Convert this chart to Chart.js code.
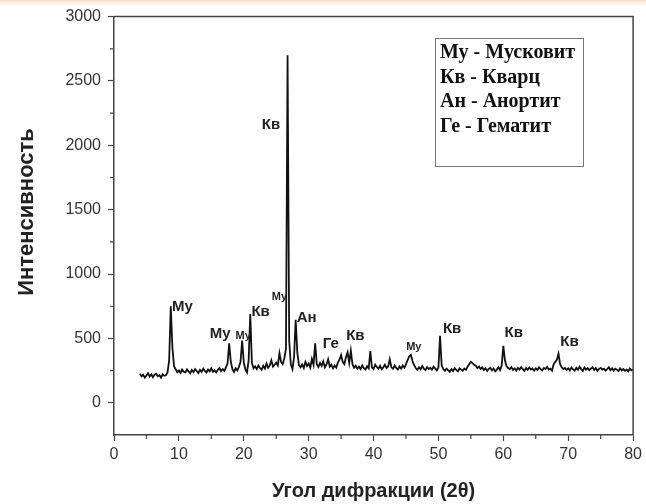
<!DOCTYPE html>
<html lang="ru">
<head>
<meta charset="UTF-8">
<title>Дифрактограмма</title>
<script src="https://cdn.jsdelivr.net/npm/chart.js"></script>
<style>
    html, body {
        margin: 0;
        padding: 0;
        background: linear-gradient(#fbdcc6 0px, #fdf1e8 3px, #ffffff 6px);
    }
    #xrd {
        display: block;
    }
</style>
</head>
<body>
<canvas id="xrd" width="646" height="504"></canvas>
<script>
    // scan grid: 4..80 degrees 2θ, 0.25 degree step
    const scanStart = 4;
    const scanStep = 0.25;

    // intensity, one row per degree (4 readings per row)
    const intensity = [
        225, 205, 218, 196,   // 4
        212, 230, 204, 221,   // 5
        199, 218, 226, 207,   // 6
        215, 196, 222, 210,   // 7
        214, 236, 330, 750,   // 8
        430, 285, 262, 238,   // 9
        251, 232, 258, 241,   // 10
        236, 260, 244, 229,   // 11
        255, 238, 262, 247,   // 12
        231, 256, 240, 265,   // 13
        248, 236, 259, 244,   // 14
        268, 241, 252, 236,   // 15
        257, 270, 245, 262,   // 16
        248, 276, 305, 462,   // 17
        320, 262, 240, 268,   // 18
        251, 279, 318, 484,   // 19
        315, 258, 236, 330,   // 20
        690, 310, 268, 284,   // 21
        262, 291, 270, 256,   // 22
        288, 266, 305, 272,   // 23
        290, 330, 281, 296,   // 24
        312, 290, 385, 318,   // 25
        300, 345, 420, 2700,  // 26
        480, 300, 262, 355,   // 27
        645, 390, 292, 276,   // 28
        298, 270, 318, 286,   // 29
        305, 272, 340, 295,   // 30
        462, 300, 278, 310,   // 31
        286, 322, 275, 298,   // 32
        338, 280, 296, 268,   // 33
        290, 274, 312, 335,   // 34
        372, 318, 300, 355,   // 35
        392, 310, 405, 300,   // 36
        272, 288, 265, 281,   // 37
        262, 290, 270, 258,   // 38
        284, 268, 402, 275,   // 39
        262, 296, 278, 265,   // 40
        288, 262, 275, 296,   // 41
        270, 282, 338, 276,   // 42
        264, 290, 271, 258,   // 43
        282, 266, 290, 272,   // 44
        300, 332, 362, 372,   // 45
        325, 292, 270, 256,   // 46
        276, 260, 285, 266,   // 47
        254, 278, 262, 272,   // 48
        258, 281, 266, 252,   // 49
        275, 520, 290, 262,   // 50
        248, 266, 252, 240,   // 51
        262, 246, 270, 255,   // 52
        244, 268, 258, 249,   // 53
        266, 256, 282, 302,   // 54
        318, 308, 295, 288,   // 55
        270, 282, 262, 276,   // 56
        255, 268, 248, 264,   // 57
        272, 252, 266, 245,   // 58
        258, 276, 254, 290,   // 59
        442, 330, 285, 270,   // 60
        262, 278, 255, 268,   // 61
        250, 272, 258, 276,   // 62
        262, 248, 270, 256,   // 63
        274, 258, 266, 249,   // 64
        268, 255, 276, 260,   // 65
        252, 270, 262, 279,   // 66
        258, 266, 250, 298,   // 67
        318, 335, 382, 300,   // 68
        276, 262, 270, 255,   // 69
        268, 252, 274, 260,   // 70
        250, 272, 258, 280,   // 71
        262, 248, 275, 258,   // 72
        270, 254, 266, 276,   // 73
        255, 270, 248, 264,   // 74
        272, 258, 266, 250,   // 75
        262, 276, 254, 268,   // 76
        250, 266, 258, 246,   // 77
        268, 252, 262, 248,   // 78
        258, 244, 266, 252,   // 79
        255                   // 80
    ];

    // phase marks over the peaks: text, angle, intensity
    const peakText = ['Му', 'Му', 'Му', 'Кв', 'Кв', 'Му', 'Ан', 'Ге', 'Кв', 'Му', 'Кв', 'Кв', 'Кв'];
    const peakAngle = [10.55, 16.36, 19.9, 22.6, 24.2, 25.5, 29.7, 33.4, 37.2, 46.2, 52.1, 61.6, 70.2];
    const peakLevel = [742, 534, 518, 704, 2158, 820, 657, 456, 518, 433, 572, 541, 472];
    const peakSmall = [false, false, true, false, false, true, false, false, false, true, false, false, false];

    const legendLines = ['Му - Мусковит', 'Кв - Кварц', 'Ан - Анортит', 'Ге - Гематит'];

    const xTicks = { min: 0, max: 80, step: 10, minor: 5 };
    const yTicks = { min: -250, max: 3000, step: 500, minor: 250 };
    const yLabels = [0, 500, 1000, 1500, 2000, 2500, 3000];

    const points = intensity.map((v, i) => ({ x: scanStart + i * scanStep, y: v }));

    const axisColor = '#444';
    const textColor = '#333';
    const sansFont = '"Liberation Sans", Arial, sans-serif';

    const decorations = {
        id: 'decorations',
        afterDraw(chart) {
            const ctx = chart.ctx;
            const area = chart.chartArea;
            const xs = chart.scales.x;
            const ys = chart.scales.y;
            ctx.save();

            // frame top and right
            ctx.strokeStyle = axisColor;
            ctx.lineWidth = 1.5;
            ctx.beginPath();
            ctx.moveTo(area.left, area.top);
            ctx.lineTo(area.right, area.top);
            ctx.lineTo(area.right, area.bottom);
            ctx.stroke();

            // minor ticks
            ctx.lineWidth = 1.2;
            ctx.beginPath();
            for (let v = xTicks.minor; v < xTicks.max; v += xTicks.step) {
                const px = xs.getPixelForValue(v);
                ctx.moveTo(px, area.bottom);
                ctx.lineTo(px, area.bottom + 4);
            }
            for (let v = yTicks.minor; v < yTicks.max; v += yTicks.step) {
                const py = ys.getPixelForValue(v);
                ctx.moveTo(area.left, py);
                ctx.lineTo(area.left - 4, py);
            }
            ctx.stroke();

            // y axis title
            ctx.save();
            ctx.translate(27, 212);
            ctx.rotate(-Math.PI / 2);
            ctx.fillStyle = '#222';
            ctx.font = 'bold 22px ' + sansFont;
            ctx.textAlign = 'center';
            ctx.textBaseline = 'middle';
            ctx.fillText('Интенсивность', 0, 0);
            ctx.restore();

            // peak marks
            ctx.fillStyle = '#222';
            ctx.textAlign = 'center';
            ctx.textBaseline = 'middle';
            peakText.forEach((t, i) => {
                ctx.font = (peakSmall[i] ? 'bold 11px ' : 'bold 15px ') + sansFont;
                ctx.fillText(t, xs.getPixelForValue(peakAngle[i]), ys.getPixelForValue(peakLevel[i]));
            });

            // legend box
            ctx.strokeStyle = '#777';
            ctx.lineWidth = 1;
            ctx.strokeRect(435.5, 38.5, 148, 128);
            ctx.fillStyle = '#111';
            ctx.textAlign = 'left';
            ctx.font = 'bold 20px "Liberation Serif", "Times New Roman", serif';
            legendLines.forEach((t, i) => {
                ctx.fillText(t, 440, 53 + i * 24.6);
            });

            ctx.restore();
        }
    };

    new Chart(document.getElementById('xrd'), {
        type: 'line',
        data: {
            datasets: [{
                data: points,
                borderColor: '#111',
                borderWidth: 1.8,
                pointRadius: 0,
                tension: 0,
                fill: false
            }]
        },
        options: {
            responsive: false,
            animation: false,
            layout: { padding: { left: 0, right: 9, top: 14, bottom: 0 } },
            plugins: {
                legend: { display: false },
                tooltip: { enabled: false }
            },
            scales: {
                x: {
                    type: 'linear',
                    min: xTicks.min,
                    max: xTicks.max,
                    afterFit(scale) { scale.height = 69; },
                    border: { color: axisColor, width: 1.5 },
                    grid: { drawOnChartArea: false, tickLength: 6, color: axisColor, tickWidth: 1.2 },
                    ticks: {
                        stepSize: xTicks.step,
                        padding: 4,
                        maxRotation: 0,
                        color: textColor,
                        font: { family: sansFont, size: 16 }
                    },
                    title: {
                        display: true,
                        text: 'Угол дифракции (2θ)',
                        color: '#222',
                        padding: { top: 0, bottom: 1 },
                        font: { family: sansFont, size: 20, weight: 'bold' }
                    }
                },
                y: {
                    min: yTicks.min,
                    max: yTicks.max,
                    afterFit(scale) { scale.width = 114; },
                    afterBuildTicks(scale) {
                        scale.ticks = yLabels.map(v => ({ value: v }));
                    },
                    border: { color: axisColor, width: 1.5 },
                    grid: { drawOnChartArea: false, tickLength: 6, color: axisColor, tickWidth: 1.2 },
                    ticks: {
                        padding: 7,
                        color: textColor,
                        callback: v => String(v),
                        font: { family: sansFont, size: 16 }
                    }
                }
            }
        },
        plugins: [decorations]
    });
</script>
</body>
</html>
